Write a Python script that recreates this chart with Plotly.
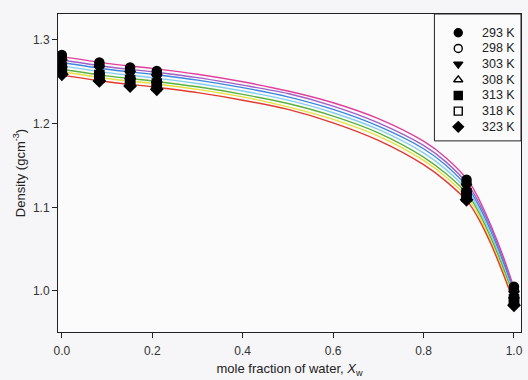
import plotly.graph_objects as go

# Measured densities (g cm^-3) vs. mole fraction of water
temps = ["293 K", "298 K", "303 K", "308 K", "313 K", "318 K", "323 K"]
x_meas = [0.0, 0.083, 0.151, 0.21, 0.895, 1.0]
rho_293 = [1.282, 1.273, 1.267, 1.263, 1.133, 1.005]
rho_298 = [1.278, 1.270, 1.263, 1.259, 1.129, 1.001]
rho_303 = [1.274, 1.266, 1.260, 1.256, 1.125, 0.997]
rho_308 = [1.270, 1.262, 1.256, 1.252, 1.121, 0.994]
rho_313 = [1.267, 1.258, 1.252, 1.248, 1.117, 0.990]
rho_318 = [1.263, 1.255, 1.249, 1.245, 1.113, 0.987]
rho_323 = [1.259, 1.251, 1.245, 1.241, 1.109, 0.983]

# Fitted curves sampled on a grid
x_fit = [0, 0.1, 0.2, 0.3, 0.4, 0.5, 0.6, 0.7, 0.8, 0.85, 0.9, 0.925, 0.95, 0.975, 1.0]
fit_293 = [1.280, 1.272, 1.266, 1.259, 1.250, 1.239, 1.225, 1.206, 1.179, 1.159, 1.131, 1.107, 1.077, 1.043, 1.004]
fit_298 = [1.276, 1.268, 1.262, 1.255, 1.246, 1.236, 1.221, 1.201, 1.174, 1.154, 1.126, 1.103, 1.074, 1.039, 1.001]
fit_303 = [1.273, 1.265, 1.259, 1.252, 1.243, 1.232, 1.217, 1.197, 1.170, 1.150, 1.122, 1.099, 1.070, 1.036, 0.998]
fit_308 = [1.269, 1.261, 1.255, 1.248, 1.239, 1.228, 1.213, 1.193, 1.165, 1.145, 1.118, 1.095, 1.066, 1.032, 0.995]
fit_313 = [1.265, 1.257, 1.251, 1.244, 1.235, 1.224, 1.209, 1.189, 1.160, 1.140, 1.114, 1.091, 1.062, 1.029, 0.992]
fit_318 = [1.262, 1.254, 1.248, 1.241, 1.232, 1.220, 1.205, 1.185, 1.156, 1.136, 1.110, 1.087, 1.058, 1.025, 0.989]
fit_323 = [1.258, 1.250, 1.244, 1.237, 1.228, 1.217, 1.201, 1.180, 1.151, 1.131, 1.105, 1.083, 1.055, 1.022, 0.986]

meas = [rho_293, rho_298, rho_303, rho_308, rho_313, rho_318, rho_323]
fits = [fit_293, fit_298, fit_303, fit_308, fit_313, fit_318, fit_323]

curve_colors = ["#e0409a", "#a060c8", "#3f86e0", "#86cdf0", "#5cb23c", "#e6e040", "#e23a30"]
symbols = ["circle", "circle-open", "triangle-down", "triangle-up-open",
           "square", "square-open", "diamond"]

FONT = "Liberation Sans, Arial, sans-serif"

fig = go.Figure()

for f, c in zip(fits, curve_colors):
    fig.add_trace(go.Scatter(
        x=x_fit, y=f, mode="lines",
        line=dict(color=c, width=1.4, shape="spline", smoothing=0.8),
        showlegend=False, hoverinfo="skip"))

for name, r, s in zip(temps, meas, symbols):
    fig.add_trace(go.Scatter(
        x=x_meas, y=r, mode="markers", name=name, showlegend=False,
        marker=dict(symbol=s, size=9, color="black",
                    line=dict(color="black", width=1.5))))

# Key box in the top-right corner, laid out on an overlay axis pair (0..1 in plot domain)
key_left, key_bottom = 0.813, 0.601
key_sym_x, key_text_x = 0.8645, 0.912
key_top_y, key_step = 0.941, 0.0493
key_y = [key_top_y - i * key_step for i in range(len(temps))]

fig.add_trace(go.Scatter(
    x=[key_sym_x] * len(temps), y=key_y, mode="markers",
    xaxis="x2", yaxis="y2", showlegend=False, hoverinfo="skip",
    marker=dict(symbol=symbols, size=8, color="black",
                line=dict(color="black", width=1.4))))

fig.add_shape(type="rect", xref="x domain", yref="y domain",
              x0=key_left, x1=1, y0=key_bottom, y1=1,
              line=dict(color="#222", width=1), fillcolor="#fbfbfc", layer="below")

for name, yy in zip(temps, key_y):
    fig.add_annotation(text=name, xref="x domain", yref="y domain",
                       x=key_text_x, y=yy, xanchor="left", yanchor="middle",
                       showarrow=False, font=dict(family=FONT, size=12.5, color="#222"))

axis_common = dict(
    showline=True, linecolor="#222", linewidth=1, mirror=True,
    ticks="outside", ticklen=5, tickcolor="#222", tickwidth=1,
    showgrid=False, zeroline=False,
    tickfont=dict(family=FONT, size=12, color="#333"),
)

fig.update_layout(
    width=528, height=380,
    margin=dict(l=58, r=5, t=14, b=48),
    paper_bgcolor="#f6f6f8", plot_bgcolor="#fbfbfc",
    font=dict(family=FONT, size=12, color="#222"),
    showlegend=False,
    xaxis=dict(range=[-0.0085, 1.0155], tickvals=[0, 0.2, 0.4, 0.6, 0.8, 1.0],
               tickformat=".1f", ticklabelstandoff=3,
               title=dict(text="mole fraction of water, <i>X</i><sub>w</sub>",
                          font=dict(size=13), standoff=6),
               **axis_common),
    yaxis=dict(range=[0.951, 1.331], tickvals=[1.0, 1.1, 1.2, 1.3],
               tickformat=".1f",
               title=dict(text="Density (gcm<sup>-3</sup>)", font=dict(size=13), standoff=4),
               **axis_common),
    xaxis2=dict(overlaying="x", range=[0, 1], visible=False, fixedrange=True),
    yaxis2=dict(overlaying="y", range=[0, 1], visible=False, fixedrange=True),
)

fig.write_html("out.html")
